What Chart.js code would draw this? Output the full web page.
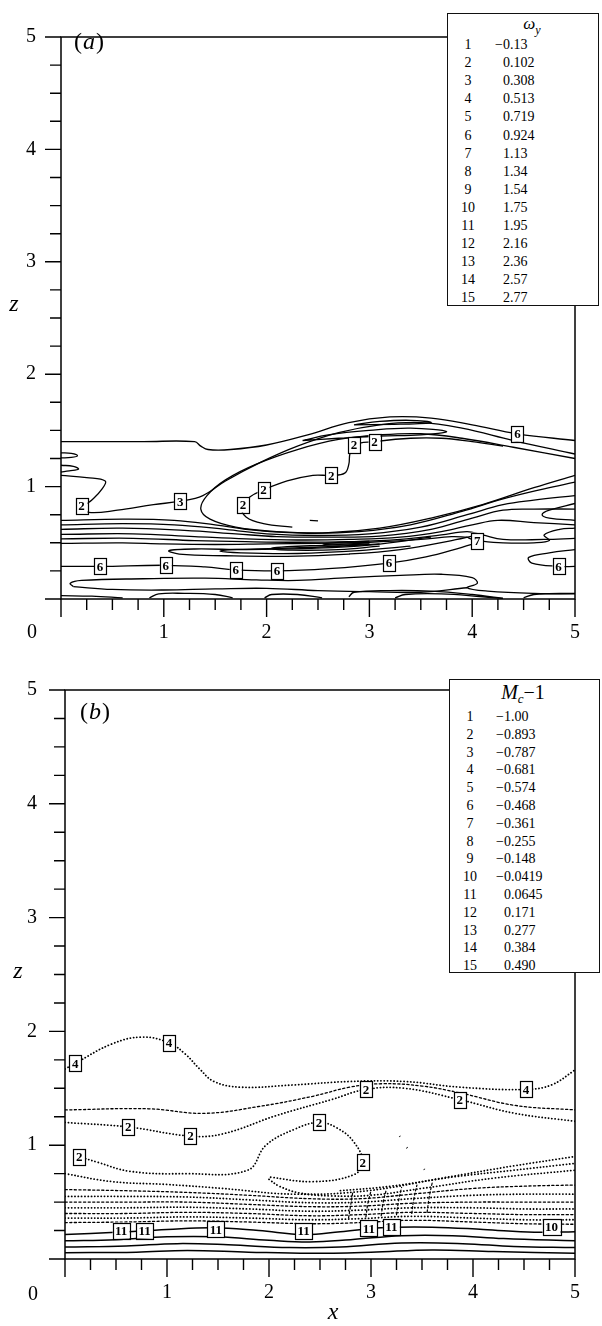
<!DOCTYPE html>
<html>
<head>
<meta charset="utf-8">
<script src="https://cdn.jsdelivr.net/npm/chart.js@4/dist/chart.umd.min.js"></script>
<style>
  body { margin: 0; background: #fff; }
  #page { position: relative; width: 602px; height: 1326px; font-family: "Liberation Serif", "DejaVu Serif", serif; color: #000; }
  .panel { position: absolute; left: 0; width: 602px; }
  .key { position: absolute; border: 1px solid #111; background: #fff; box-sizing: border-box; }
  .key .hd { position: absolute; transform: translate(-50%, -50%); white-space: nowrap; }
  .key .n, .key .v { position: absolute; font-size: 14px; line-height: 15px; transform: translateY(-50%); white-space: nowrap; }
  .key .n { transform: translate(-50%, -50%); }
  .key .m { position: absolute; right: 100%; }
</style>
</head>
<body>
<div id="page">
  <div class="panel" style="top:0;height:650px"><canvas id="chartA" width="602" height="650"></canvas></div>
  <div class="panel" style="top:650px;height:676px"><canvas id="chartB" width="602" height="676"></canvas></div>
</div>
<script>
// axis ticks / labels
const xTickLabels = ['0', '1', '2', '3', '4', '5'];
const zTickLabels = ['0', '1', '2', '3', '4', '5'];

// contour levels shown in the keys
const omegaLevels = ['\u22120.13', '0.102', '0.308', '0.513', '0.719', '0.924', '1.13', '1.34', '1.54', '1.75', '1.95', '2.16', '2.36', '2.57', '2.77'];
const machLevels = ['\u22121.00', '\u22120.893', '\u22120.787', '\u22120.681', '\u22120.574', '\u22120.468', '\u22120.361', '\u22120.255', '\u22120.148', '\u22120.0419', '0.0645', '0.171', '0.277', '0.384', '0.490'];

// ---- panel (a): omega_y contours, [x, z]
const aOuter = [[0,1.40],[0.8,1.40],[1.3,1.40],[1.36,1.36],[1.43,1.33],[1.65,1.33],[2.0,1.37],[2.4,1.46],[2.8,1.57],[3.2,1.62],[3.6,1.61],[4.0,1.55],[4.44,1.47],[5,1.41]];
const aThree = [[0,1.10],[0.25,1.08],[0.43,1.05],[0.40,0.98],[0.30,0.88],[0.22,0.82],[0.27,0.77],[0.55,0.79],[0.9,0.84],[1.16,0.87],[1.38,0.92],[1.6,1.05],[1.95,1.22],[2.3,1.36],[2.7,1.48],[3.1,1.55],[3.5,1.57],[3.9,1.52],[4.4,1.41],[5,1.29]];
const aLens = [[5,1.10],[4.6,0.99],[4.1,0.84],[3.6,0.72],[3.1,0.63],[2.6,0.59],[2.1,0.60],[1.7,0.64],[1.45,0.71],[1.36,0.80],[1.42,0.92],[1.6,1.06],[1.9,1.20],[2.3,1.33],[2.7,1.42],[3.1,1.46],[3.5,1.47],[3.9,1.43],[4.4,1.35],[5,1.25]];
const aTwo = [[2.25,0.64],[1.97,0.67],[1.8,0.73],[1.76,0.82],[1.84,0.91],[1.97,0.97],[2.2,1.05],[2.45,1.10],[2.63,1.10],[2.76,1.12],[2.80,1.20],[2.81,1.29],[2.85,1.37],[3.05,1.40],[3.4,1.43],[3.7,1.43],[4.0,1.40],[4.3,1.36]];
const aTop1 = [[2.35,1.41],[2.6,1.46],[3.0,1.50],[3.4,1.52],[3.75,1.49],[3.5,1.46],[3.1,1.45],[2.7,1.43],[2.35,1.41]];
const aTop2 = [[2.85,1.55],[3.1,1.58],[3.4,1.59],[3.6,1.57],[3.3,1.555],[2.85,1.55]];
const aWig1 = [[0,1.30],[0.1,1.295],[0.16,1.275],[0.1,1.26],[0,1.255]];
const aWig2 = [[0,1.19],[0.12,1.18],[0.17,1.155],[0.08,1.14],[0,1.13]];
const aBand1 = [[0,0.70],[0.6,0.71],[1.1,0.70],[1.5,0.66],[1.9,0.61],[2.4,0.585],[2.9,0.60],[3.4,0.66],[3.9,0.78],[4.3,0.89],[4.7,0.98],[5,1.04]];
const aBand2 = [[0,0.66],[0.6,0.67],[1.1,0.66],[1.6,0.62],[2.0,0.58],[2.5,0.565],[3.0,0.58],[3.5,0.64],[3.95,0.75],[4.3,0.84],[4.6,0.88],[5,0.92]];
const aBand3 = [[0,0.62],[0.6,0.63],[1.2,0.61],[1.7,0.58],[2.1,0.555],[2.6,0.55],[3.1,0.56],[3.6,0.62],[4.0,0.72],[4.3,0.79],[4.6,0.80],[5,0.80]];
const aBand4 = [[0,0.575],[0.7,0.58],[1.3,0.555],[1.8,0.535],[2.3,0.525],[2.8,0.53],[3.3,0.55],[3.7,0.60],[4.0,0.66],[4.25,0.70],[4.6,0.68],[5,0.66]];
const aBand5 = [[0,0.535],[0.7,0.54],[1.3,0.52],[1.8,0.51],[2.3,0.505],[2.8,0.51],[3.3,0.53],[3.7,0.57],[3.95,0.60],[4.1,0.57],[4.3,0.53],[4.7,0.53],[5,0.54]];
const aBand6 = [[0,0.495],[0.6,0.50],[1.0,0.49],[1.5,0.485],[2.0,0.49],[2.5,0.495],[3.0,0.505],[3.5,0.53],[3.8,0.555],[3.95,0.55]];
const aSeven = [[3.95,0.55],[4.0,0.53],[4.05,0.52],[4.3,0.50],[4.6,0.50],[4.75,0.52],[4.7,0.57],[4.85,0.62],[5,0.63]];
const aHook = [[5,0.85],[4.75,0.79],[4.68,0.75],[4.75,0.72],[5,0.70]];
const aHook1 = [[3.6,0.55],[3.0,0.48],[2.4,0.45],[1.8,0.44],[1.3,0.445],[1.05,0.43],[1.15,0.40],[1.6,0.385],[2.2,0.38],[2.8,0.40],[3.3,0.44],[3.8,0.52],[4.1,0.58]];
const aHook2 = [[3.1,0.49],[2.6,0.465],[2.1,0.45],[1.65,0.44],[1.55,0.425],[1.75,0.41],[2.3,0.405],[2.9,0.43],[3.4,0.47]];
const aHook3 = [[3.0,0.50],[2.6,0.48],[2.2,0.465],[2.05,0.45],[2.25,0.435],[2.7,0.44],[3.1,0.47]];
const aHook4 = [[3.0,0.515],[2.65,0.50],[2.55,0.49],[2.7,0.48],[3.0,0.49]];
const aSix = [[0,0.29],[0.38,0.29],[1.02,0.30],[1.4,0.285],[1.7,0.26],[2.1,0.25],[2.6,0.27],[3.19,0.32],[3.55,0.375],[3.9,0.46],[4.05,0.50]];
const aSixB = [[5,0.44],[4.75,0.41],[4.55,0.37],[4.58,0.32],[4.84,0.29],[5,0.29]];
const aLow1 = [[0.12,0.11],[0.09,0.14],[0.2,0.165],[0.8,0.18],[1.4,0.185],[1.9,0.17],[2.3,0.165],[2.8,0.19],[3.3,0.21],[3.7,0.22],[4.0,0.19],[4.05,0.14],[3.95,0.10],[4.15,0.07],[4.6,0.05],[5,0.05]];
const aLow2 = [[0.12,0.11],[0.5,0.085],[1.0,0.08],[1.5,0.09],[2.0,0.095],[2.5,0.075],[3.0,0.065],[3.5,0.06],[3.95,0.10]];
const aEdge0 = [[0,0.03],[0.3,0.025],[0.6,0.01]];
const aEdge1 = [[0.86,0.01],[0.95,0.045],[1.2,0.05],[1.5,0.04],[1.67,0.01]];
const aEdge2 = [[1.98,0.01],[2.05,0.04],[2.3,0.04],[2.54,0.01]];
const aEdge3 = [[2.8,0.02],[2.85,0.06],[3.2,0.075],[3.6,0.07],[4.0,0.04],[4.3,0.005]];
const aEdge4 = [[3.25,0.01],[3.35,0.04],[3.7,0.045],[4.1,0.02],[4.3,0.005]];
const aEdge5 = [[4.5,0.01],[4.6,0.04],[4.8,0.045],[5,0.045]];
const aBlob = [[2.42,0.70],[2.5,0.695]];

const aLabels = [[0.20,0.83,'2'],[1.16,0.87,'3'],[1.77,0.84,'2'],[1.97,0.97,'2'],[2.63,1.10,'2'],[2.85,1.37,'2'],[3.05,1.40,'2'],[4.44,1.47,'6'],[4.05,0.52,'7'],[0.38,0.29,'6'],[1.02,0.30,'6'],[1.70,0.26,'6'],[2.10,0.25,'6'],[3.19,0.32,'6'],[4.84,0.29,'6']];

// ---- panel (b): M_c - 1 contours
const bFour = [[0,1.67],[0.1,1.72],[0.46,1.89],[0.75,1.95],[1.02,1.90],[1.18,1.80],[1.32,1.67],[1.46,1.56],[1.72,1.51],[2.25,1.53],[2.79,1.56],[3.33,1.56],[3.87,1.51],[4.52,1.49],[4.77,1.53],[5,1.66]];
const bUpper = [[0,1.31],[0.82,1.32],[1.36,1.28],[1.9,1.34],[2.43,1.43],[2.79,1.51],[3.1,1.54],[3.5,1.52],[3.87,1.46],[4.41,1.35],[5,1.31]];
const bLower = [[0,1.20],[0.62,1.16],[1.23,1.08],[1.55,1.10],[2.07,1.26],[2.61,1.40],[2.95,1.49],[3.33,1.50],[3.87,1.40],[4.41,1.28],[5,1.21]];
const bLoop = [[0.14,0.90],[0.32,0.85],[0.64,0.77],[1.18,0.75],[1.79,0.78],[1.97,1.00],[2.25,1.14],[2.49,1.20],[2.67,1.15],[2.83,1.03],[2.92,0.85],[2.83,0.74],[2.43,0.68],[2.0,0.72]];
const bDot1 = [[0,0.75],[0.46,0.68],[1.0,0.655],[1.54,0.62],[2.25,0.57],[2.97,0.60],[3.69,0.71],[4.41,0.82],[5,0.90]];
const bDot2 = [[2.0,0.70],[2.1,0.64],[2.3,0.58],[2.6,0.555],[3.0,0.56],[3.5,0.62],[4.2,0.71],[5,0.78]];
const bDot3 = [[0,0.61],[0.6,0.60],[1.2,0.585],[1.8,0.56],[2.4,0.53],[2.9,0.53],[3.4,0.57],[4.0,0.62],[4.5,0.64],[5,0.65]];
const bDot4 = [[0,0.55],[0.6,0.55],[1.2,0.545],[1.8,0.52],[2.4,0.495],[2.9,0.50],[3.4,0.53],[4.0,0.56],[4.5,0.57],[5,0.57]];
const bDot5 = [[0,0.50],[0.6,0.50],[1.2,0.50],[1.8,0.48],[2.4,0.46],[2.9,0.465],[3.4,0.49],[4.0,0.50],[4.5,0.50],[5,0.50]];
const bDot6 = [[0,0.45],[0.6,0.45],[1.2,0.455],[1.8,0.44],[2.4,0.42],[2.9,0.43],[3.4,0.45],[4.0,0.45],[4.5,0.44],[5,0.44]];
const bDot7 = [[0,0.40],[0.6,0.40],[1.2,0.41],[1.8,0.40],[2.4,0.38],[2.9,0.39],[3.4,0.41],[4.0,0.40],[4.5,0.39],[5,0.39]];
const bDot8 = [[0,0.36],[0.6,0.36],[1.2,0.37],[1.8,0.36],[2.4,0.345],[2.9,0.355],[3.4,0.375],[4.0,0.36],[4.5,0.345],[5,0.345]];
const bDot9 = [[0,0.32],[0.6,0.325],[1.2,0.335],[1.8,0.325],[2.4,0.31],[2.9,0.32],[3.4,0.34],[4.0,0.325],[4.5,0.31],[5,0.305]];
const bDot10 = [[2.7,0.60],[3.2,0.64],[3.8,0.72],[4.4,0.78],[5,0.84]];
const bHatch1 = [[2.78,0.36],[2.80,0.47],[2.82,0.58]];
const bHatch2 = [[2.95,0.37],[2.97,0.49],[3.00,0.60]];
const bHatch3 = [[3.10,0.38],[3.12,0.50],[3.15,0.61]];
const bHatch4 = [[3.25,0.39],[3.27,0.51],[3.30,0.63]];
const bHatch5 = [[3.40,0.40],[3.42,0.53],[3.45,0.65]];
const bHatch6 = [[3.55,0.41],[3.57,0.54],[3.60,0.67]];
const bSolid1 = [[0,0.215],[0.5,0.235],[1.0,0.26],[1.45,0.275],[1.9,0.25],[2.34,0.215],[2.7,0.24],[3.1,0.275],[3.6,0.28],[4.1,0.26],[4.6,0.235],[5,0.24]];
const bSolid2 = [[0,0.16],[0.5,0.17],[1.0,0.195],[1.5,0.195],[2.0,0.165],[2.4,0.15],[2.8,0.17],[3.3,0.205],[3.8,0.205],[4.3,0.18],[5,0.16]];
const bSolid3 = [[0,0.105],[0.6,0.115],[1.1,0.135],[1.6,0.125],[2.2,0.10],[2.7,0.105],[3.3,0.14],[3.9,0.135],[4.4,0.11],[5,0.10]];
const bSolid4 = [[0,0.055],[0.7,0.06],[1.2,0.075],[1.8,0.06],[2.4,0.05],[3.0,0.06],[3.6,0.08],[4.2,0.065],[5,0.05]];
const bSpeck1 = [[3.28,1.08],[3.285,1.075]];
const bSpeck2 = [[3.35,0.98],[3.355,0.975]];
const bSpeck3 = [[3.52,0.79],[3.525,0.785]];

const bLabels = [[0.10,1.72,'4'],[1.02,1.90,'4'],[2.95,1.49,'2'],[3.87,1.40,'2'],[4.52,1.49,'4'],[0.62,1.16,'2'],[1.23,1.08,'2'],[2.49,1.20,'2'],[0.14,0.90,'2'],[2.92,0.85,'2'],[0.55,0.25,'11'],[0.78,0.25,'11'],[1.48,0.26,'11'],[2.34,0.245,'11'],[2.98,0.27,'11'],[3.20,0.28,'11'],[4.77,0.28,'10']];

const SOLID = [];
const DOTS = [0.1, 3.2];
const DASH = [2.2, 2.4];

const aLines = [aOuter, aThree, aLens, aTwo, aTop1, aTop2, aWig1, aWig2, aBand1, aBand2, aBand3, aBand4, aBand5, aBand6, aSeven, aHook,
  aHook1, aHook2, aHook3, aHook4, aSix, aSixB, aLow1, aLow2, aEdge0, aEdge1, aEdge2, aEdge3, aEdge4, aEdge5, aBlob].map(p => ({ pts: p, dash: SOLID, w: 1.3 }));

const bLines = [
  { pts: bFour, dash: DOTS, w: 1.8 },
  { pts: bUpper, dash: DASH, w: 1.3 },
  { pts: bLower, dash: DOTS, w: 1.8 },
  { pts: bLoop, dash: DOTS, w: 1.8 },
  { pts: bDot1, dash: DOTS, w: 1.8 },
  { pts: bDot2, dash: DOTS, w: 1.8 },
  { pts: bDot3, dash: DASH, w: 1.3 },
  { pts: bDot4, dash: DOTS, w: 1.8 },
  { pts: bDot5, dash: DASH, w: 1.3 },
  { pts: bDot6, dash: DOTS, w: 1.8 },
  { pts: bDot7, dash: DASH, w: 1.3 },
  { pts: bDot8, dash: DOTS, w: 1.8 },
  { pts: bDot9, dash: DASH, w: 1.3 },
  { pts: bDot10, dash: DOTS, w: 1.8 },
  { pts: bHatch1, dash: DASH, w: 1.2 },
  { pts: bHatch2, dash: DASH, w: 1.2 },
  { pts: bHatch3, dash: DASH, w: 1.2 },
  { pts: bHatch4, dash: DASH, w: 1.2 },
  { pts: bHatch5, dash: DASH, w: 1.2 },
  { pts: bHatch6, dash: DASH, w: 1.2 },
  { pts: bSolid1, dash: SOLID, w: 1.5 },
  { pts: bSolid2, dash: SOLID, w: 1.5 },
  { pts: bSolid3, dash: SOLID, w: 1.5 },
  { pts: bSolid4, dash: SOLID, w: 1.5 },
  { pts: bSpeck1, dash: SOLID, w: 2 },
  { pts: bSpeck2, dash: SOLID, w: 2 },
  { pts: bSpeck3, dash: SOLID, w: 2 }
];

const SERIF = '"Liberation Serif", "DejaVu Serif", serif';
const INK = '#000';

// frame, tick marks, corner zero, titles, boxed contour labels
const decor = {
  id: 'decor',
  afterDatasetsDraw(chart, args, o) {
    const { ctx, chartArea: a, scales: { x, y } } = chart;
    ctx.save();
    ctx.strokeStyle = INK;
    ctx.fillStyle = INK;

    // boxed labels
    ctx.font = 'bold 13px ' + SERIF;
    ctx.textAlign = 'center';
    ctx.textBaseline = 'middle';
    ctx.lineWidth = 1.2;
    o.labels.forEach(([lx, lz, t]) => {
      const px = x.getPixelForValue(lx), py = y.getPixelForValue(lz);
      const w = Math.round(ctx.measureText(t).width + 5), h = 16;
      ctx.fillStyle = '#fff';
      ctx.fillRect(px - w / 2, py - h / 2, w, h);
      ctx.strokeRect(Math.round(px - w / 2) + 0.5, Math.round(py - h / 2) + 0.5, w, h);
      ctx.fillStyle = INK;
      ctx.fillText(t, px, py + 1);
    });

    // frame
    ctx.lineWidth = 1.5;
    ctx.strokeRect(a.left, a.top, a.right - a.left, a.bottom - a.top);

    // ticks
    ctx.lineWidth = 1.4;
    ctx.beginPath();
    x.ticks.forEach(t => {
      const px = x.getPixelForValue(t.value);
      const len = Number.isInteger(Math.round(t.value * 1000) / 1000) ? 18 : 11;
      ctx.moveTo(px, a.bottom);
      ctx.lineTo(px, a.bottom + len);
    });
    y.ticks.forEach(t => {
      const py = y.getPixelForValue(t.value);
      const len = Number.isInteger(Math.round(t.value * 1000) / 1000) ? 16 : 11;
      ctx.moveTo(a.left, py);
      ctx.lineTo(a.left - len, py);
    });
    ctx.stroke();

    // corner zero and axis titles
    ctx.font = '20px ' + SERIF;
    ctx.fillText(xTickLabels[0], o.zero[0], o.zero[1]);
    ctx.font = 'italic 24px ' + SERIF;
    ctx.fillText('z', o.zTitle[0], o.zTitle[1]);
    if (o.xTitle) ctx.fillText('x', o.xTitle[0], o.xTitle[1]);

    // panel letter: (a) / (b)
    ctx.textAlign = 'left';
    ctx.font = '24px ' + SERIF;
    let px = o.tag[0];
    ctx.fillText('(', px, o.tag[1]);
    px += ctx.measureText('(').width + 1;
    ctx.font = 'italic 24px ' + SERIF;
    ctx.fillText(o.tag[2], px, o.tag[1]);
    px += ctx.measureText(o.tag[2]).width + 1;
    ctx.font = '24px ' + SERIF;
    ctx.fillText(')', px, o.tag[1]);
    ctx.restore();
  }
};

function makePanel(id, lines, labels, geo) {
  return new Chart(document.getElementById(id), {
    type: 'scatter',
    data: {
      datasets: lines.map(l => ({
        data: l.pts.map(p => ({ x: p[0], y: p[1] })),
        showLine: true,
        pointRadius: 0,
        borderColor: INK,
        borderWidth: l.w,
        borderDash: l.dash,
        borderCapStyle: l.dash.length ? 'round' : 'butt',
        tension: 0.4
      }))
    },
    options: {
      responsive: false,
      animation: false,
      events: [],
      layout: { padding: { top: geo.top, right: geo.right, left: 0, bottom: 0 } },
      plugins: {
        legend: { display: false },
        tooltip: { enabled: false },
        decor: { labels, zero: geo.zero, zTitle: geo.zTitle, xTitle: geo.xTitle, tag: geo.tag }
      },
      scales: {
        x: {
          type: 'linear', min: 0, max: 5,
          grid: { display: false, drawTicks: false },
          border: { display: false },
          afterFit: s => { s.height = geo.xh; },
          ticks: {
            stepSize: 0.25, autoSkip: false, maxRotation: 0, padding: 22,
            color: INK, font: { family: SERIF, size: 20 },
            callback: v => (Number.isInteger(v) && v > 0) ? xTickLabels[v] : ''
          }
        },
        y: {
          type: 'linear', min: 0, max: 5,
          grid: { display: false, drawTicks: false },
          border: { display: false },
          afterFit: s => { s.width = geo.yw; },
          ticks: {
            stepSize: 0.25, autoSkip: false, padding: geo.ypad,
            color: INK, font: { family: SERIF, size: 20 },
            callback: v => (Number.isInteger(v) && v > 0) ? zTickLabels[v] : ''
          }
        }
      }
    },
    plugins: [decor]
  });
}

makePanel('chartA', aLines, aLabels, { top: 13, right: 4, xh: 51, yw: 61, ypad: 25, zero: [32, 633], zTitle: [14, 305], xTitle: null, tag: [74, 43, 'a'] });
makePanel('chartB', bLines, bLabels, { top: 29, right: 2, xh: 67, yw: 65, ypad: 28, zero: [33, 645], zTitle: [18, 322], xTitle: [333, 663], tag: [80, 63, 'b'] });

// keys (contour level tables)
function makeKey(box, head, levels) {
  const k = document.createElement('div');
  k.className = 'key';
  k.style.left = box.left + 'px';
  k.style.top = box.top + 'px';
  k.style.width = box.w + 'px';
  k.style.height = box.h + 'px';
  const hd = document.createElement('div');
  hd.className = 'hd';
  hd.style.left = box.hx + 'px';
  hd.style.top = box.hy + 'px';
  hd.innerHTML = head;
  k.appendChild(hd);
  levels.forEach((v, i) => {
    const cy = box.r0 + i * box.dr;
    const n = document.createElement('span');
    n.className = 'n';
    n.style.left = box.nx + 'px';
    n.style.top = cy + 'px';
    n.textContent = String(i + 1);
    const s = document.createElement('span');
    s.className = 'v';
    s.style.left = box.vx + 'px';
    s.style.top = cy + 'px';
    if (v[0] === '\u2212') {
      const m = document.createElement('span');
      m.className = 'm';
      m.textContent = '\u2212';
      s.appendChild(m);
      s.appendChild(document.createTextNode(v.slice(1)));
    } else {
      s.textContent = v;
    }
    k.appendChild(n);
    k.appendChild(s);
  });
  document.getElementById('page').appendChild(k);
}

makeKey({ left: 447, top: 13, w: 152, h: 293, hx: 84, hy: 12, r0: 30, dr: 18.1, nx: 20, vx: 55 },
  '<span style="font-size:17px;font-style:italic">\u03c9</span><sub style="font-size:12px;font-style:italic">y</sub>', omegaLevels);
makeKey({ left: 449, top: 679, w: 151, h: 294, hx: 73, hy: 14, r0: 36, dr: 17.8, nx: 20, vx: 54 },
  '<span style="font-size:20px;font-style:italic">M</span><sub style="font-size:13px;font-style:italic">c</sub><span style="font-size:20px">\u22121</span>', machLevels);
</script>
</body>
</html>
